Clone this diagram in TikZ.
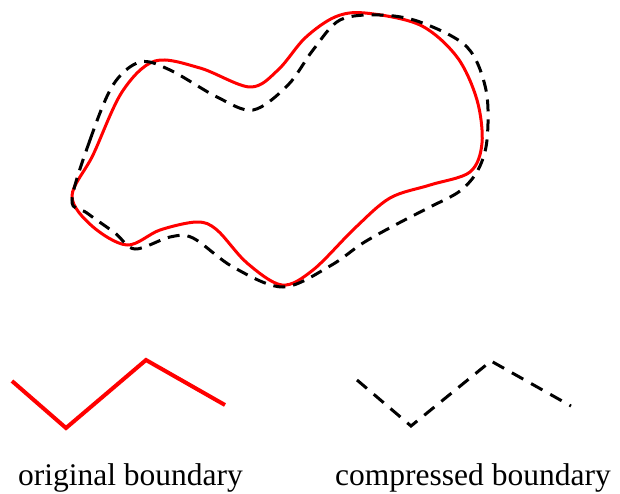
\documentclass[tikz,border=0pt]{standalone}
\usepackage{fontspec}
\setmainfont{Liberation Serif}
\begin{document}
\begin{tikzpicture}[x=1pt,y=-1pt,
  orig/.style={draw=red,line width=3pt,line join=round},
  comp/.style={draw=black,line width=3pt,dash pattern=on 12pt off 8pt},
  origleg/.style={draw=red,line width=4pt},
  compleg/.style={draw=black,line width=3pt,dash pattern=on 13pt off 9pt},
  lbl/.style={font=\fontsize{31.5}{36}\selectfont,anchor=base,inner sep=0pt}]
\useasboundingbox (0,0) rectangle (620,493);
% original boundary
\draw[orig] plot[smooth cycle,tension=0.55] coordinates {
 (72,196) (93,155) (122,92) (155,61) (200,68) (250,87)
 (278,70) (305,38) (335,17) (365,13) (420,25) (457,57) (477,100) (482,143) (470,172)
 (430,185) (390,198) (355,228) (313,270) (282,285) (247,263) (217,230) (197,222)
 (160,230) (127,245) (92,226)};
% compressed boundary
\draw[comp] plot[smooth cycle,tension=0.55] coordinates {
 (72,200) (90,140) (113,85) (140,62) (170,70) (217,97) (253,110)
 (288,85) (313,50) (340,20) (380,15) (420,22) (467,47) (486,90) (487,140)
 (478,170) (460,191) (430,207) (397,224) (363,243) (330,266) (283,287)
 (233,267) (193,238) (170,237) (135,249) (115,233) (87,213)};
% legend
\coordinate (a1) at (12,381); \coordinate (a2) at (66,428);
\coordinate (a3) at (146,360); \coordinate (a4) at (225,405);
\draw[origleg] (a1) -- (a2) -- (a3) -- (a4);
\coordinate (b1) at (357,380); \coordinate (b2) at (411,426);
\coordinate (b3) at (491,361); \coordinate (b4) at (571,406);
\draw[compleg] (b1) -- (b2) -- (b3) -- (b4);
\node[lbl] (origlbl) at (130.5,485) {original boundary};
\node[lbl] (complbl) at (473,485) {compressed boundary};
\end{tikzpicture}
\end{document}
